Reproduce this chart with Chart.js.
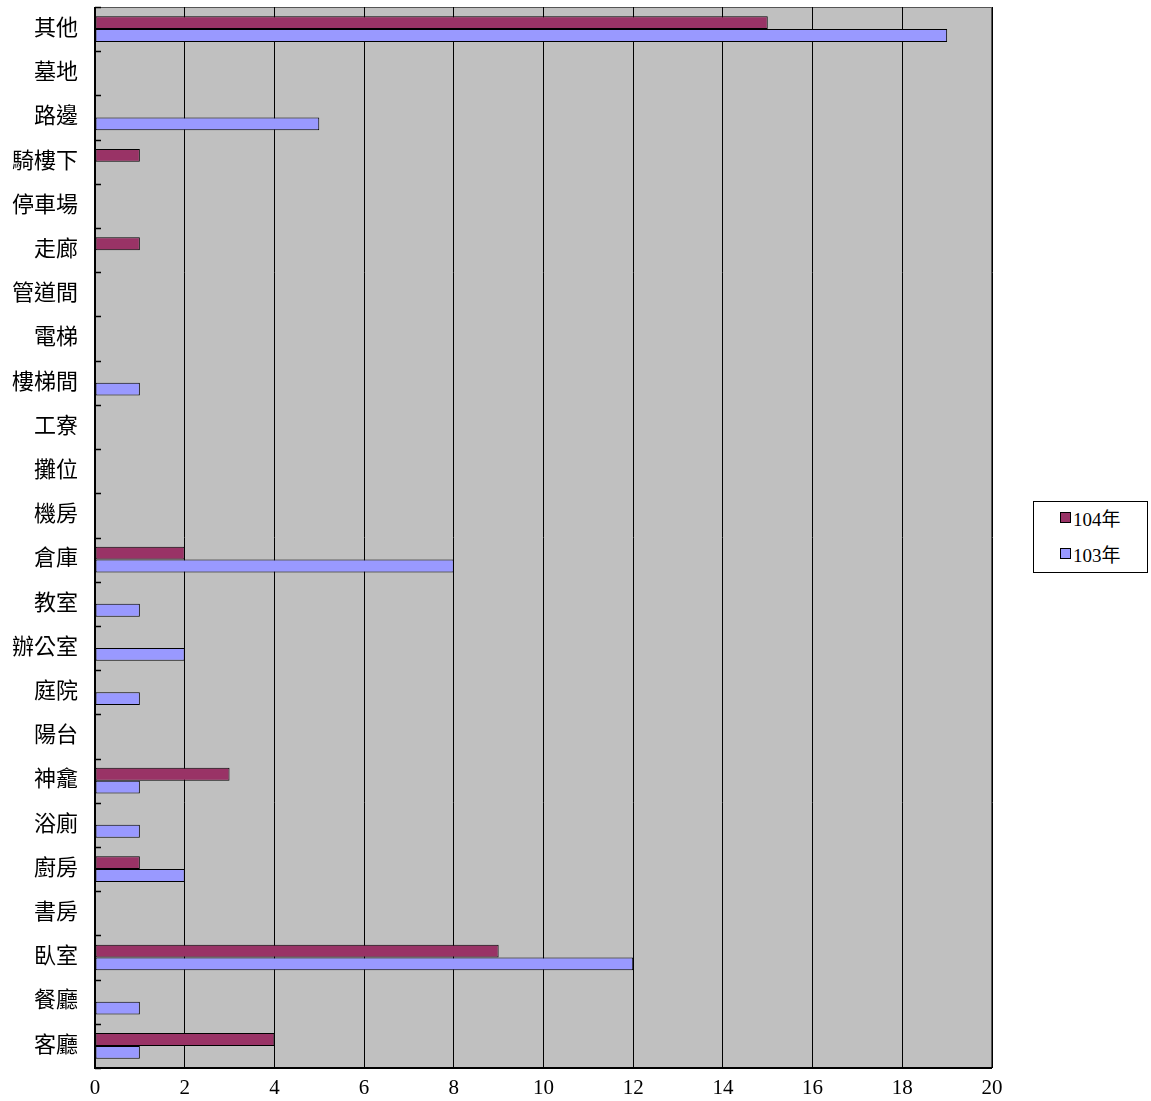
<!DOCTYPE html>
<html>
<head>
<meta charset="utf-8">
<script src="https://cdn.jsdelivr.net/npm/chart.js@4.4.1/dist/chart.umd.min.js"></script>
<style>
  html, body { margin: 0; padding: 0; background: #fff; }
  #wrap { position: relative; width: 1151px; height: 1101px; }
  #legend {
    position: absolute; left: 1033px; top: 501px; width: 113px; height: 70px;
    border: 1px solid #000; background: #fff;
    font-family: "Liberation Serif", "DejaVu Serif", "Noto Sans CJK TC", serif;
    font-size: 19px; color: #000;
  }
  .item { position: absolute; left: 26px; display: flex; align-items: center; }
  .sw { width: 9px; height: 9px; border: 1px solid #000; margin-right: 2px; }
</style>
</head>
<body>
<div id="wrap">
  <canvas id="c" width="1151" height="1101"></canvas>
  <div id="legend"></div>
</div>
<script>
// categories top to bottom
const CATEGORIES = ['其他', '墓地', '路邊', '騎樓下', '停車場', '走廊', '管道間', '電梯', '樓梯間', '工寮',
  '攤位', '機房', '倉庫', '教室', '辦公室', '庭院', '陽台', '神龕', '浴廁', '廚房', '書房', '臥室', '餐廳', '客廳']
const SERIES_104 = [15, 0, 0, 1, 0, 1, 0, 0, 0, 0, 0, 0, 2, 0, 0, 0, 0, 3, 0, 1, 0, 9, 0, 4]
const SERIES_103 = [19, 0, 5, 0, 0, 0, 0, 0, 1, 0, 0, 0, 8, 1, 2, 1, 0, 1, 1, 2, 0, 12, 1, 1]
const X_TICKS = [0, 2, 4, 6, 8, 10, 12, 14, 16, 18, 20]

const LABELS = ['104年', '103年']
const COLORS = ['#993366', '#9999FF']
const FONT = '"Liberation Serif", "DejaVu Serif", "Noto Sans CJK TC", serif'

// plot background + inner tick marks between categories
const plotDecor = {
  id: 'plotDecor',
  beforeDraw(chart) {
    const { ctx, chartArea: a } = chart
    ctx.save()
    ctx.fillStyle = '#C0C0C0'
    ctx.fillRect(a.left, a.top, a.right - a.left, a.bottom - a.top)
    ctx.strokeStyle = '#555'
    ctx.lineWidth = 1
    ctx.strokeRect(a.left + 0.5, a.top + 0.5, a.right - a.left - 1, a.bottom - a.top - 1)
    ctx.restore()
  },
  afterDatasetsDraw(chart) {
    const { ctx, chartArea: a, scales } = chart
    const y = scales.y
    ctx.save()
    ctx.strokeStyle = '#000'
    ctx.lineWidth = 1.5
    for (let i = 0; i <= CATEGORIES.length; i++) {
      const py = Math.round(y.getPixelForValue(i - 0.5)) + 0.5
      ctx.beginPath()
      ctx.moveTo(a.left, py)
      ctx.lineTo(a.left + 6, py)
      ctx.stroke()
    }
    // axes
    ctx.lineWidth = 2
    ctx.beginPath()
    ctx.moveTo(a.left, a.top)
    ctx.lineTo(a.left, a.bottom)
    ctx.lineTo(a.right, a.bottom)
    ctx.stroke()
    ctx.restore()
  }
}

new Chart(document.getElementById('c'), {
  type: 'bar',
  data: {
    labels: CATEGORIES,
    datasets: [
      { label: LABELS[0], data: SERIES_104, backgroundColor: COLORS[0] },
      { label: LABELS[1], data: SERIES_103, backgroundColor: COLORS[1] },
    ].map(d => ({ ...d, borderColor: '#000', borderWidth: 1, borderSkipped: false,
      categoryPercentage: 0.58, barPercentage: 1.0 }))
  },
  options: {
    indexAxis: 'y',
    responsive: false,
    animation: false,
    layout: { padding: { top: 7, right: 159, left: 0, bottom: 0 } },
    plugins: { legend: { display: false }, tooltip: { enabled: false } },
    scales: {
      x: {
        min: 0, max: 20,
        afterBuildTicks: s => { s.ticks = X_TICKS.map(v => ({ value: v })) },
        afterFit: s => { s.height = 33 },
        grid: { color: '#000', lineWidth: 1, drawTicks: false },
        border: { display: false },
        ticks: { color: '#000', font: { family: FONT, size: 21 }, padding: 8 }
      },
      y: {
        afterFit: s => { s.width = 95; s.paddingTop = 0; s.paddingBottom = 0 },
        grid: { display: false },
        border: { display: false },
        ticks: { color: '#000', font: { family: FONT, size: 22 }, padding: 9 }
      }
    }
  },
  plugins: [plotDecor]
})

document.getElementById('legend').innerHTML = LABELS.map((l, i) =>
  `<div class="item" style="top:${2 + i * 36}px"><span class="sw" style="background:${COLORS[i]}"></span>${l}</div>`
).join('')
</script>
</body>
</html>
